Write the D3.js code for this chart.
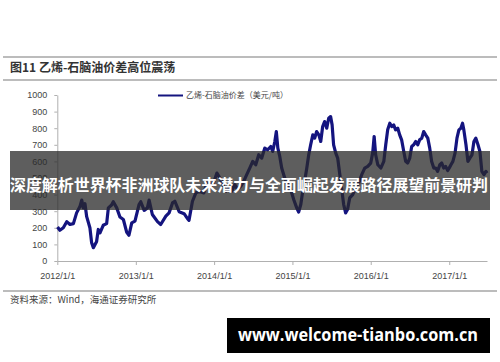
<!DOCTYPE html>
<html>
<head>
<meta charset="utf-8">
<script src="https://cdn.jsdelivr.net/npm/d3@7"></script>
<style>
  body { margin: 0; background: #fff; }
  svg { display: block; font-family: "Liberation Sans", Arial, sans-serif; }
</style>
</head>
<body>
<div id="chart"></div>
<script>
// Ethylene - naphtha spread (USD/t)
const spreadData = [
  ["2012-01-02", 205], ["2012-01-13", 185], ["2012-01-29", 200], ["2012-02-14", 237],
  ["2012-02-29", 220], ["2012-03-16", 225], ["2012-03-31", 290], ["2012-04-16", 330],
  ["2012-04-24", 367], ["2012-05-01", 320], ["2012-05-09", 345], ["2012-05-17", 267],
  ["2012-06-01", 200], ["2012-06-09", 110], ["2012-06-17", 80], ["2012-06-25", 100],
  ["2012-07-02", 116], ["2012-07-10", 190], ["2012-07-18", 170], ["2012-08-02", 215],
  ["2012-08-18", 225], ["2012-08-26", 320], ["2012-09-10", 337], ["2012-09-18", 357],
  ["2012-10-04", 320], ["2012-10-19", 265], ["2012-11-04", 250], ["2012-11-19", 175],
  ["2012-11-30", 155], ["2012-12-13", 230], ["2012-12-28", 240],
  ["2013-01-16", 340], ["2013-01-24", 357], ["2013-02-09", 305], ["2013-02-24", 320],
  ["2013-03-04", 367], ["2013-03-19", 280], ["2013-04-12", 237], ["2013-04-27", 220],
  ["2013-05-21", 270], ["2013-06-05", 290], ["2013-06-21", 350], ["2013-07-02", 360],
  ["2013-07-22", 297], ["2013-08-14", 285], ["2013-08-30", 255], ["2013-09-06", 245],
  ["2013-09-22", 360], ["2013-10-08", 410], ["2013-10-23", 420], ["2013-11-14", 410],
  ["2013-11-28", 470], ["2013-12-17", 450],
  ["2014-01-01", 480], ["2014-01-14", 530], ["2014-01-28", 500], ["2014-02-11", 460],
  ["2014-02-25", 420], ["2014-03-11", 440], ["2014-03-24", 420], ["2014-04-07", 460],
  ["2014-04-21", 430], ["2014-05-05", 450], ["2014-05-19", 480], ["2014-06-02", 520],
  ["2014-06-16", 560], ["2014-06-30", 600], ["2014-07-14", 580], ["2014-07-28", 640],
  ["2014-08-11", 620], ["2014-08-25", 680], ["2014-09-08", 670], ["2014-09-22", 690],
  ["2014-10-01", 660], ["2014-10-11", 720], ["2014-10-18", 780], ["2014-10-25", 680],
  ["2014-11-03", 630], ["2014-11-12", 560], ["2014-11-26", 500], ["2014-12-10", 460],
  ["2014-12-24", 430],
  ["2015-01-07", 370], ["2015-01-21", 320], ["2015-01-30", 295], ["2015-02-09", 340],
  ["2015-02-18", 420], ["2015-02-27", 480], ["2015-03-09", 560], ["2015-03-18", 640],
  ["2015-03-27", 700], ["2015-04-06", 760], ["2015-04-15", 740], ["2015-04-24", 780],
  ["2015-05-04", 760], ["2015-05-13", 720], ["2015-05-22", 810], ["2015-05-31", 840],
  ["2015-06-10", 800], ["2015-06-19", 860], ["2015-06-28", 870], ["2015-07-05", 820],
  ["2015-07-12", 700], ["2015-07-22", 650], ["2015-07-31", 620], ["2015-08-09", 530],
  ["2015-08-19", 430], ["2015-08-28", 340], ["2015-09-06", 290], ["2015-09-15", 310],
  ["2015-09-25", 380], ["2015-10-09", 400], ["2015-10-23", 440], ["2015-11-06", 470],
  ["2015-11-20", 520], ["2015-12-04", 560], ["2015-12-18", 570],
  ["2016-01-01", 590], ["2016-01-10", 650], ["2016-01-17", 750], ["2016-01-24", 640],
  ["2016-02-03", 580], ["2016-02-17", 560], ["2016-03-02", 600], ["2016-03-11", 700],
  ["2016-03-20", 790], ["2016-03-30", 830], ["2016-04-08", 810], ["2016-04-17", 820],
  ["2016-04-26", 790], ["2016-05-06", 800], ["2016-05-15", 760], ["2016-05-24", 730],
  ["2016-06-03", 660], ["2016-06-12", 600], ["2016-06-21", 590], ["2016-07-01", 620],
  ["2016-07-10", 690], ["2016-07-19", 700], ["2016-07-29", 720], ["2016-08-07", 700],
  ["2016-08-16", 730], ["2016-08-26", 740], ["2016-09-04", 780], ["2016-09-13", 760],
  ["2016-09-23", 740], ["2016-10-02", 680], ["2016-10-11", 600], ["2016-10-21", 560],
  ["2016-10-30", 560], ["2016-11-08", 540], ["2016-11-18", 580], ["2016-11-27", 590],
  ["2016-12-06", 560], ["2016-12-15", 570], ["2016-12-25", 545],
  ["2017-01-01", 560], ["2017-01-09", 580], ["2017-01-18", 600], ["2017-01-28", 650],
  ["2017-02-06", 740], ["2017-02-15", 790], ["2017-02-24", 800], ["2017-03-04", 830],
  ["2017-03-10", 790], ["2017-03-20", 700], ["2017-03-29", 600], ["2017-04-07", 620],
  ["2017-04-17", 640], ["2017-04-26", 720], ["2017-05-05", 740], ["2017-05-15", 700],
  ["2017-05-24", 660], ["2017-06-02", 540], ["2017-06-12", 520], ["2017-06-21", 540],
  ["2017-06-26", 530]
];
const yTicks = [0, 100, 200, 300, 400, 500, 600, 700, 800, 900, 1000];
const xTickDates = ["2012-01-01", "2013-01-01", "2014-01-01", "2015-01-01", "2016-01-01", "2017-01-01"];

const parse = d3.timeParse("%Y-%m-%d");
const data = spreadData.map((d) => ({ date: parse(d[0]), value: d[1] }));

const svg = d3
  .select("#chart")
  .append("svg")
  .attr("width", 500)
  .attr("height", 362);

// Frame lines and title
svg.append("line").attr("x1", 3).attr("x2", 497).attr("y1", 57).attr("y2", 57)
  .attr("stroke", "#a6a6a6").attr("stroke-width", 1.5);
svg.append("line").attr("x1", 3).attr("x2", 497).attr("y1", 80).attr("y2", 80)
  .attr("stroke", "#a6a6a6").attr("stroke-width", 1.5);
svg.append("line").attr("x1", 3).attr("x2", 497).attr("y1", 291).attr("y2", 291)
  .attr("stroke", "#a6a6a6").attr("stroke-width", 1.5);

svg.append("text")
  .attr("x", 10).attr("y", 69)
  .attr("dominant-baseline", "middle")
  .style("font-family", "'Noto Sans CJK SC', sans-serif")
  .style("font-size", "12px").style("font-weight", "bold").attr("fill", "#333")
  .text("图11 乙烯-石脑油价差高位震荡");

svg.append("text")
  .attr("x", 10).attr("y", 300)
  .attr("dominant-baseline", "middle")
  .style("font-family", "'Noto Sans CJK SC', sans-serif")
  .style("font-size", "9.5px").attr("fill", "#444")
  .text("资料来源：Wind，海通证券研究所");

// Scales
const x = d3.scaleTime()
  .domain([parse("2012-01-01"), parse("2017-06-26")])
  .range([57.3, 487]);
const y = d3.scaleLinear().domain([0, 1000]).range([261, 95]);

// X axis
const xAxis = svg.append("g")
  .attr("transform", "translate(0,261)")
  .call(d3.axisBottom(x)
    .tickValues(xTickDates.map(parse))
    .tickFormat(d3.timeFormat("%Y/%-m/%-d"))
    .tickSize(4).tickSizeOuter(0));
xAxis.select(".domain").attr("stroke", "#b0b0b0");
xAxis.selectAll(".tick line").attr("stroke", "#b0b0b0");
xAxis.selectAll("text").attr("fill", "#444").style("font-size", "9px").attr("dy", "1.25em");

// Y axis
const yAxis = svg.append("g")
  .attr("transform", "translate(57.3,0)")
  .call(d3.axisLeft(y).tickValues(yTicks).tickFormat(d3.format("d"))
    .tickSize(3).tickSizeOuter(0));
yAxis.select(".domain").attr("stroke", "#b0b0b0");
yAxis.selectAll(".tick line").attr("stroke", "#b0b0b0");
yAxis.selectAll("text").attr("fill", "#444").style("font-size", "9px").attr("x", -10);

// Line
const line = d3.line()
  .x((d) => x(d.date))
  .y((d) => y(d.value));

svg.append("path")
  .datum(data)
  .attr("fill", "none")
  .attr("stroke", "#14147f")
  .attr("stroke-width", 3.2)
  .attr("stroke-linejoin", "round")
  .attr("d", line);

// Legend
svg.append("line").attr("x1", 158).attr("x2", 183).attr("y1", 95.5).attr("y2", 95.5)
  .attr("stroke", "#14147f").attr("stroke-width", 2);
svg.append("text")
  .attr("x", 186).attr("y", 96)
  .attr("dominant-baseline", "middle")
  .style("font-family", "'Noto Sans CJK SC', sans-serif")
  .style("font-size", "8px").attr("fill", "#444")
  .text("乙烯-石脑油价差（美元/吨）");

// Overlay banner
svg.append("rect")
  .attr("x", 10).attr("y", 151).attr("width", 480).attr("height", 59)
  .attr("fill", "rgba(40,40,40,0.75)");
svg.append("text")
  .attr("x", 249).attr("y", 187)
  .attr("text-anchor", "middle")
  .attr("dominant-baseline", "middle")
  .attr("textLength", 478).attr("lengthAdjust", "spacingAndGlyphs")
  .style("font-family", "'Noto Sans CJK SC', sans-serif")
  .style("font-size", "15.4px").style("font-weight", "bold").attr("fill", "#fff")
  .text("深度解析世界杯非洲球队未来潜力与全面崛起发展路径展望前景研判");

// Watermark box
svg.append("rect")
  .attr("x", 227).attr("y", 318).attr("width", 263).attr("height", 35)
  .attr("fill", "#000");
svg.append("text")
  .attr("x", 358).attr("y", 336)
  .attr("text-anchor", "middle")
  .attr("dominant-baseline", "middle")
  .attr("textLength", 240).attr("lengthAdjust", "spacingAndGlyphs")
  .style("font-family", "'Open Sans', sans-serif")
  .style("font-size", "17px").style("font-weight", "bold").attr("fill", "#fff")
  .text("www.welcome-tianbo.com.cn");
</script>
</body>
</html>
